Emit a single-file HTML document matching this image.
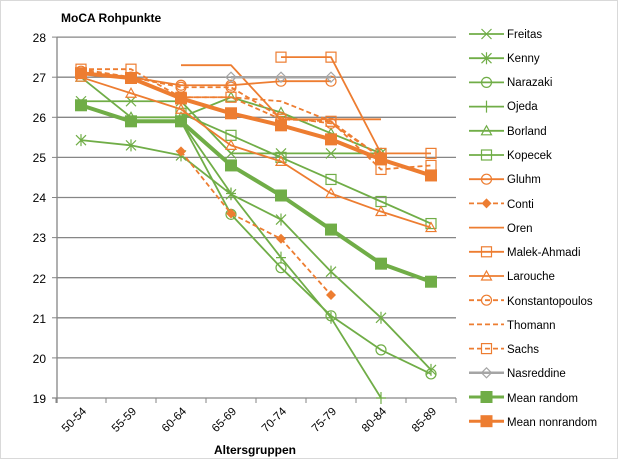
<!DOCTYPE html>
<html><head><meta charset="utf-8"><style>
html,body{margin:0;padding:0;background:#fff}
svg{display:block;font-family:"Liberation Sans",sans-serif}
</style></head><body>
<svg id="s" width="618" height="459" viewBox="0 0 618 459" xmlns="http://www.w3.org/2000/svg">
<rect x="0.5" y="0.5" width="617" height="458" fill="#fff" stroke="#d9d9d9"/>
<text x="61" y="22" font-size="12" font-weight="bold" fill="#000">MoCA Rohpunkte</text>
<g id="grid"></g>
<g font-size="12" fill="#000" text-anchor="end">
<text x="46" y="42">28</text><text x="46" y="82">27</text><text x="46" y="122">26</text><text x="46" y="162">25</text><text x="46" y="202">24</text><text x="46" y="242">23</text><text x="46" y="283">22</text><text x="46" y="323">21</text><text x="46" y="363">20</text><text x="46" y="403">19</text>
</g>
<g font-size="11.5" fill="#000" text-anchor="end">
<text transform="translate(87,412) rotate(-45)">50-54</text>
<text transform="translate(137,412) rotate(-45)">55-59</text>
<text transform="translate(187,412) rotate(-45)">60-64</text>
<text transform="translate(237,412) rotate(-45)">65-69</text>
<text transform="translate(287,412) rotate(-45)">70-74</text>
<text transform="translate(337,412) rotate(-45)">75-79</text>
<text transform="translate(387,412) rotate(-45)">80-84</text>
<text transform="translate(437,412) rotate(-45)">85-89</text>
</g>
<text x="255" y="454" font-size="12" font-weight="bold" text-anchor="middle">Altersgruppen</text>
<g id="series"></g>
<g id="leg"></g>
<g font-size="11.5" fill="#000">
<text x="507" y="38">Freitas</text><text x="507" y="62">Kenny</text><text x="507" y="86">Narazaki</text><text x="507" y="110">Ojeda</text><text x="507" y="135">Borland</text><text x="507" y="159">Kopecek</text><text x="507" y="183">Gluhm</text><text x="507" y="208">Conti</text><text x="507" y="232">Oren</text><text x="507" y="256">Malek-Ahmadi</text><text x="507" y="280">Larouche</text><text x="507" y="305">Konstantopoulos</text><text x="507" y="329">Thomann</text><text x="507" y="353">Sachs</text><text x="507" y="377">Nasreddine</text><text x="507" y="402">Mean random</text><text x="507" y="426">Mean nonrandom</text>
</g>
</svg>
<script>
const NS="http://www.w3.org/2000/svg";
function el(p,t,a){const e=document.createElementNS(NS,t);for(const k in a)e.setAttribute(k,a[k]);p.appendChild(e);return e;}
const G="#70ad47",O="#ed7d31",Gr="#a5a5a5";
const X=i=>81+50*i, Y=v=>398-(v-19)*40.1;
const grid=document.getElementById('grid');
for(let v=19;v<=28;v++){ if(v>19) el(grid,'line',{x1:57,x2:456,y1:Y(v),y2:Y(v),stroke:'#868686','stroke-width':1.3}); }
el(grid,'line',{x1:57,x2:57,y1:37,y2:403,stroke:'#868686','stroke-width':1.3});
el(grid,'line',{x1:52,x2:456,y1:398,y2:398,stroke:'#868686','stroke-width':1.3});
for(let v=19;v<=28;v++) el(grid,'line',{x1:52,x2:57,y1:Y(v),y2:Y(v),stroke:'#868686'});
for(let i=0;i<=8;i++) el(grid,'line',{x1:56+50*i,x2:56+50*i,y1:398,y2:403,stroke:'#868686'});
const S=[
["Freitas",G,1.8,"","x",[[0,26.4],[1,26.4],[2,26.4],[3,25.1],[4,25.1],[5,25.1],[6,25.1]]],
["Kenny",G,1.8,"","ast",[[0,25.43],[1,25.3],[2,25.05],[3,24.08],[4,23.45],[5,22.15],[6,21.0],[7,19.7]]],
["Narazaki",G,1.8,"","circ",[[2,25.9],[3,23.58],[4,22.25],[5,21.05],[6,20.2],[7,19.6]]],
["Ojeda",G,1.8,"","plus",[[2,25.9],[3,24.1],[4,22.5],[5,21.0],[6,19.0]]],
["Borland",G,1.8,"","tri",[[0,27.0],[1,26.0],[2,26.0],[3,26.5],[4,26.12],[5,25.6],[6,25.1]]],
["Kopecek",G,1.8,"","sq",[[2,26.1],[3,25.55],[4,25.0],[5,24.45],[6,23.9],[7,23.35]]],
["Gluhm",O,1.8,"","circ",[[0,27.1],[1,27.0],[2,26.8],[3,26.8],[4,26.9],[5,26.9]]],
["Conti",O,1.8,"5,3","dia",[[2,25.15],[3,23.6],[4,22.97],[5,21.57]]],
["Oren",O,1.8,"","",[[2,27.3],[3,27.3],[4,25.95],[5,25.95],[6,25.95]]],
["Malek",O,1.8,"","sq",[[4,27.5],[5,27.5],[6,25.1],[7,25.1]]],
["Larouche",O,1.8,"","tri",[[0,27.0],[1,26.6],[2,26.2],[3,25.3],[4,24.9],[5,24.1],[6,23.65],[7,23.25]]],
["Konst",O,1.8,"5,3","circ",[[0,27.15],[1,27.0],[2,26.75],[3,26.75],[4,26.0],[5,25.85],[6,25.0]]],
["Thomann",O,1.8,"5,3","",[[0,27.2],[1,27.0],[2,26.5],[3,26.5],[4,26.4],[5,25.9],[6,25.0]]],
["Sachs",O,1.8,"5,3","sq",[[0,27.2],[1,27.2],[2,26.5],[3,26.5],[4,25.95],[5,25.9],[6,24.7],[7,24.8]]],
["Nasreddine",Gr,2.5,"","dia2",[[3,27.0],[4,27.0],[5,27.0]]],
["MeanR",G,4,"","fsq",[[0,26.3],[1,25.9],[2,25.9],[3,24.8],[4,24.05],[5,23.2],[6,22.35],[7,21.9]]],
["MeanN",O,4,"","fsq",[[0,27.1],[1,26.98],[2,26.47],[3,26.1],[4,25.8],[5,25.45],[6,24.95],[7,24.55]]]
];
function mark(g,m,x,y,c){
 const a={stroke:c,'stroke-width':1.2,fill:'none'};
 if(m=="x"){el(g,'path',Object.assign({d:`M${x-5} ${y-5}L${x+5} ${y+5}M${x-5} ${y+5}L${x+5} ${y-5}`},a));}
 else if(m=="ast"){el(g,'path',Object.assign({d:`M${x-5} ${y-5}L${x+5} ${y+5}M${x-5} ${y+5}L${x+5} ${y-5}M${x} ${y-6}L${x} ${y+6}`},a));}
 else if(m=="plus"){el(g,'path',Object.assign({d:`M${x-5} ${y}L${x+5} ${y}M${x} ${y-6}L${x} ${y+6}`},a));}
 else if(m=="circ"){el(g,'circle',Object.assign({cx:x,cy:y,r:5,fill:'#fff'},a));}
 else if(m=="tri"){el(g,'path',Object.assign({d:`M${x} ${y-5}L${x+5} ${y+4}L${x-5} ${y+4}Z`,fill:'#fff'},a));}
 else if(m=="sq"){el(g,'rect',Object.assign({x:x-5,y:y-5,width:10,height:10,fill:'#fff'},a));}
 else if(m=="dia"){el(g,'path',{d:`M${x} ${y-5}L${x+5} ${y}L${x} ${y+5}L${x-5} ${y}Z`,fill:c});}
 else if(m=="dia2"){el(g,'path',Object.assign({d:`M${x} ${y-5}L${x+5} ${y}L${x} ${y+5}L${x-5} ${y}Z`,fill:'#fff'},a));}
 else if(m=="fsq"){el(g,'rect',{x:x-6,y:y-6,width:12,height:12,fill:c});}
}
const sg=document.getElementById('series'), lg=document.getElementById('leg');
S.forEach((s,k)=>{
 const [n,c,w,d,m,p]=s;
 const pts=p.map(q=>X(q[0])+","+Y(q[1])).join(" ");
 const a={points:pts,fill:'none',stroke:c,'stroke-width':w,'stroke-linejoin':'round'};
 if(d)a['stroke-dasharray']=d;
 el(sg,'polyline',a);
 p.forEach(q=>mark(sg,m,X(q[0]),Y(q[1]),c));
 const ly=34+24.2*k;
 const la={x1:469,x2:504,y1:ly,y2:ly,stroke:c,'stroke-width':Math.min(w,3)};
 if(d)la['stroke-dasharray']=d;
 el(lg,'line',la);
 mark(lg,m,486.5,ly,c);
});
</script>
</body></html>
